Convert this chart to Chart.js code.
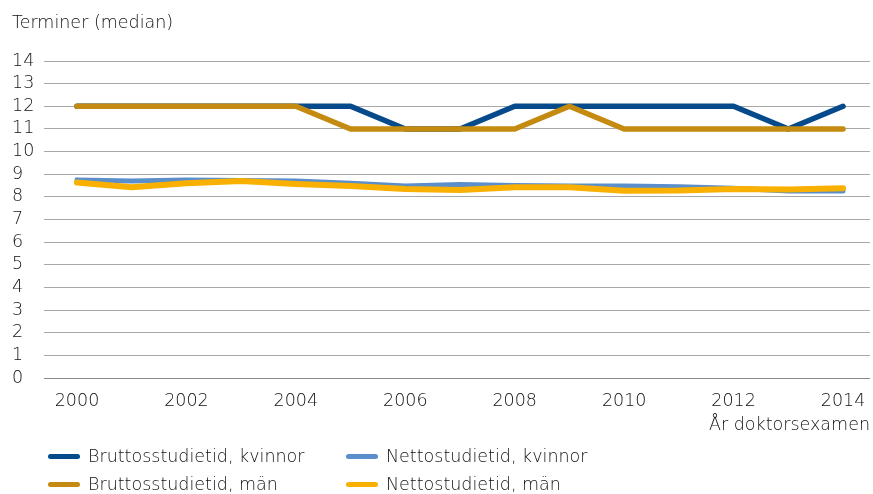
<!DOCTYPE html>
<html>
<head>
<meta charset="utf-8">
<script src="https://cdn.jsdelivr.net/npm/chart.js@4"></script>
<style>
    body { margin: 0; background: #fff; font-family: "DejaVu Sans", sans-serif; font-weight: 200; color: #111; }
    #wrap { position: relative; width: 873px; height: 494px; }
    #title { position: absolute; left: 12px; top: 12px; font-size: 17.5px; }
    #xtitle { position: absolute; right: 3px; top: 414px; font-size: 17.5px; }
    .leg { position: absolute; font-size: 17.5px; display: flex; align-items: center; }
    .leg span.sw { display: inline-block; width: 32px; height: 5px; border-radius: 3px; margin-right: 8px; }
</style>
</head>
<body>
<div id="wrap">
    <canvas id="trend_chart" width="873" height="494"></canvas>
    <div id="title">Terminer (median)</div>
    <div id="xtitle">År doktorsexamen</div>
    <div id="legend"></div>
</div>
<script>
const years = [2000, 2001, 2002, 2003, 2004, 2005, 2006, 2007, 2008, 2009, 2010, 2011, 2012, 2013, 2014];
const bruttoKvinnor = [12, 12, 12, 12, 12, 12, 11, 11, 12, 12, 12, 12, 12, 11, 12];
const bruttoMan = [12, 12, 12, 12, 12, 11, 11, 11, 11, 12, 11, 11, 11, 11, 11];
const nettoKvinnor = [8.75, 8.7, 8.75, 8.72, 8.7, 8.6, 8.48, 8.55, 8.5, 8.48, 8.48, 8.45, 8.38, 8.26, 8.26];
const nettoMan = [8.63, 8.42, 8.6, 8.7, 8.57, 8.48, 8.35, 8.3, 8.42, 8.42, 8.27, 8.28, 8.35, 8.33, 8.38];
const xTicks = [2000, 2002, 2004, 2006, 2008, 2010, 2012, 2014];

// order: lower number is drawn on top
const series = [
    { label: "Bruttosstudietid, kvinnor", data: bruttoKvinnor, color: "#054a8b", width: 5.5, order: 4 },
    { label: "Bruttosstudietid, män", data: bruttoMan, color: "#c48b10", width: 5.5, order: 3 },
    { label: "Nettostudietid, kvinnor", data: nettoKvinnor, color: "#5a8fcb", width: 5, order: 2 },
    { label: "Nettostudietid, män", data: nettoMan, color: "#f9b000", width: 6, order: 1 }
];

const tickFont = { family: "DejaVu Sans", size: 17.5, weight: 200 };

const ctx = document.getElementById("trend_chart");
const trend_chart = new Chart(ctx, {
    type: 'line',
    data: {
        datasets: series.map(s => ({
            label: s.label,
            data: s.data.map((v, i) => ({ x: years[i], y: v })),
            order: s.order,
            borderColor: s.color,
            backgroundColor: s.color,
            borderWidth: s.width,
            borderCapStyle: 'round',
            borderJoinStyle: 'round',
            pointRadius: 0,
            tension: 0
        }))
    },
    options: {
        responsive: false,
        animation: false,
        layout: { padding: { top: 61, bottom: 76, left: 12, right: 3 } },
        plugins: {
            legend: { display: false },
            tooltip: { enabled: false }
        },
        scales: {
            x: {
                type: 'linear',
                min: 1999.397,
                max: 2014.493,
                afterBuildTicks: axis => { axis.ticks = xTicks.map(v => ({ value: v })); },
                afterFit: axis => { axis.height = 40; },
                grid: { display: false },
                border: { display: false },
                ticks: {
                    color: "#111",
                    font: tickFont,
                    padding: 5,
                    maxRotation: 0,
                    autoSkip: false,
                    callback: v => String(v)
                }
            },
            y: {
                min: 0,
                max: 14,
                afterFit: axis => { axis.width = 32; },
                border: { display: false },
                grid: {
                    color: ctx => ctx.tick.value === 0 ? "#8a8a8a" : "#a8a8a8",
                    lineWidth: 1,
                    drawTicks: false
                },
                ticks: {
                    stepSize: 1,
                    autoSkip: false,
                    crossAlign: 'far',
                    padding: 8,
                    color: "#111",
                    font: tickFont
                }
            }
        }
    }
});

// legend laid out in two columns like the original
const legendPos = [
    { left: 48, top: 446 }, { left: 48, top: 474 },
    { left: 346, top: 446 }, { left: 346, top: 474 }
];
const legend = document.getElementById("legend");
series.forEach((s, i) => {
    const d = document.createElement("div");
    d.className = "leg";
    d.style.left = legendPos[i].left + "px";
    d.style.top = legendPos[i].top + "px";
    d.innerHTML = '<span class="sw" style="background:' + s.color + '"></span>' + s.label;
    legend.appendChild(d);
});
</script>
</body>
</html>
